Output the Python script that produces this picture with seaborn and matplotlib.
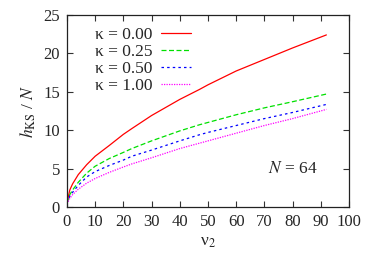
import numpy as np
import pandas as pd
import seaborn as sns
import matplotlib
matplotlib.use("Agg")
import matplotlib.pyplot as plt

# values
nu2 = [0, 1, 2, 4, 7, 10, 15, 20, 23, 30, 40, 47, 50, 60, 70, 80, 92]
h_k000 = [0.5, 2.2, 3.0, 4.2, 5.5, 6.6, 8.0, 9.45, 10.2, 11.9, 14.0, 15.3, 15.9, 17.7, 19.2, 20.7, 22.4]
h_k025 = [0.5, 1.6, 2.2, 3.2, 4.4, 5.3, 6.3, 7.1, 7.6, 8.6, 9.9, 10.7, 11.0, 12.0, 12.9, 13.7, 14.7]
h_k050 = [0.5, 1.4, 1.9, 2.8, 3.9, 4.6, 5.4, 6.1, 6.6, 7.4, 8.6, 9.4, 9.7, 10.6, 11.5, 12.3, 13.35]
h_k100 = [0.4, 1.1, 1.6, 2.3, 3.1, 3.7, 4.5, 5.2, 5.6, 6.4, 7.6, 8.3, 8.6, 9.6, 10.6, 11.5, 12.7]
kappa_labels = ["κ = 0.00", "κ = 0.25", "κ = 0.50", "κ = 1.00"]

series = [h_k000, h_k025, h_k050, h_k100]
colors = ["#ff0000", "#00e000", "#0000ff", "#ff00ff"]
dashes = [(None, None), (4, 2), (2, 2.5), (1, 1)]

sns.set_style("ticks")
plt.rcParams["font.family"] = ["Liberation Serif", "DejaVu Serif"]
plt.rcParams["mathtext.fontset"] = "stix"

fig = plt.figure(figsize=(3.74, 2.67), dpi=100)
ax = fig.add_axes([0.179, 0.225, 0.754, 0.719])

for vals, lab, c, d in zip(series, kappa_labels, colors, dashes):
    df = pd.DataFrame({"nu2": nu2, "h": vals})
    sns.lineplot(data=df, x="nu2", y="h", ax=ax, color=c, lw=0.9, label=lab)
    if d[0] is not None:
        ax.lines[-1].set_dashes(d)

ax.set_xlim(0, 100)
ax.set_ylim(0, 25)
ax.set_xticks(np.arange(0, 101, 10))
ax.set_yticks(np.arange(0, 26, 5))
ax.tick_params(direction="in", length=4, width=0.8, top=True, right=True, pad=5,
               labelsize=12, color="#333333")
for sp in ax.spines.values():
    sp.set_linewidth(0.9)
    sp.set_color("#222222")

ax.set_xlabel("ν$_2$", fontsize=12.5, labelpad=3)
ax.set_ylabel(r"$h_{\mathrm{KS}}$ / $N$", fontsize=12.5, labelpad=4)

ax.text(0.8, 0.2, r"$N$ = 64", transform=ax.transAxes, ha="center", va="center", fontsize=12.5)

leg = ax.legend(loc="upper left", bbox_to_anchor=(0.05, 1.01), frameon=False, markerfirst=False,
                handlelength=1.7, handletextpad=0.5, labelspacing=0.05, fontsize=12.5, borderpad=0.3)

fig.savefig("out.png", dpi=100)
